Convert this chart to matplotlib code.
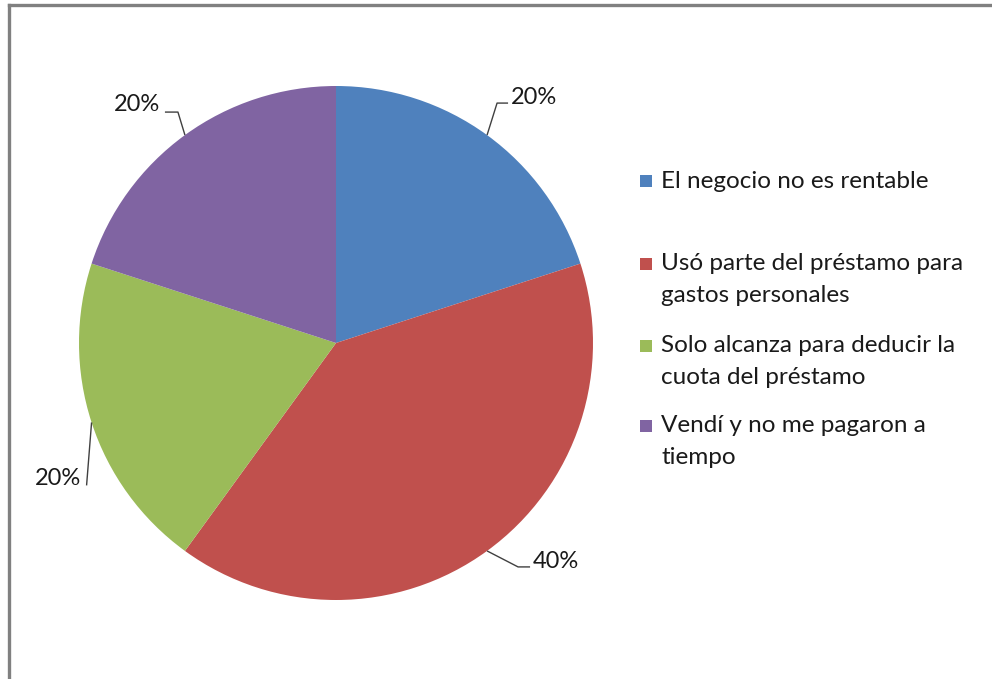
import numpy as np
import matplotlib.pyplot as plt
from matplotlib.lines import Line2D

plt.rcParams['font.family'] = ['Lato', 'DejaVu Sans']

categories = [
    "El negocio no es rentable",
    "Usó parte del préstamo para\ngastos personales",
    "Solo alcanza para deducir la\ncuota del préstamo",
    "Vendí y no me pagaron a\ntiempo",
]
shares = [20, 40, 20, 20]
colors = ["#4F81BD", "#C0504D", "#9BBB59", "#8064A2"]

W, H = 992, 679
fig = plt.figure(figsize=(W / 100, H / 100), dpi=100)
ax = fig.add_axes([0, 0, 1, 1])

# chart frame (runs off the right and bottom of the picture)
ax.add_line(Line2D([9, 9], [0, H - 5], color="#808080", lw=2.4))
ax.add_line(Line2D([9, W], [H - 5, H - 5], color="#808080", lw=2.4))

cx, cy, r = 336, H - 343, 257
ax.pie(shares, colors=colors, startangle=90, counterclock=False,
       center=(cx, cy), radius=r, frame=True,
       wedgeprops=dict(linewidth=0))
ax.set_xlim(0, W)
ax.set_ylim(0, H)
ax.set_aspect("equal")
ax.axis("off")

# leader lines: (elbow dx, dy), (end dx, dy), text anchor offset, ha
leaders = [
    ((10, 32), (21, 32), (24, 38), "left"),
    ((31, -16), (43, -16), (46, -11), "left"),
    ((-5, -63), (-5, -63), (-10, -56), "right"),
    ((-7, 23), (-20, 23), (-25, 31), "right"),
]

total = sum(shares)
start = 90.0
for val, (elb, end, toff, ha) in zip(shares, leaders):
    mid = np.deg2rad(start - 360 * val / total / 2)
    start -= 360 * val / total
    ax_, ay_ = cx + r * np.cos(mid), cy + r * np.sin(mid)
    ax.plot([ax_, ax_ + elb[0], ax_ + end[0]], [ay_, ay_ + elb[1], ay_ + end[1]],
            color="#404040", lw=1.0, solid_capstyle="butt")
    ax.text(ax_ + toff[0], ay_ + toff[1], f"{val}%", ha=ha, va="center",
            fontsize=17, color="#1a1a1a")

# legend
entry_y = [181, 264, 346, 426]
line_gap = 31
for lab, col, y0 in zip(categories, colors, entry_y):
    ax.add_patch(plt.Rectangle((640, H - y0 - 6), 12, 12, color=col, lw=0))
    for i, line in enumerate(lab.split("\n")):
        ax.text(661, H - y0 - i * line_gap, line, ha="left", va="center",
                fontsize=17.5, color="#1a1a1a")

fig.savefig("out.png", dpi=100)
